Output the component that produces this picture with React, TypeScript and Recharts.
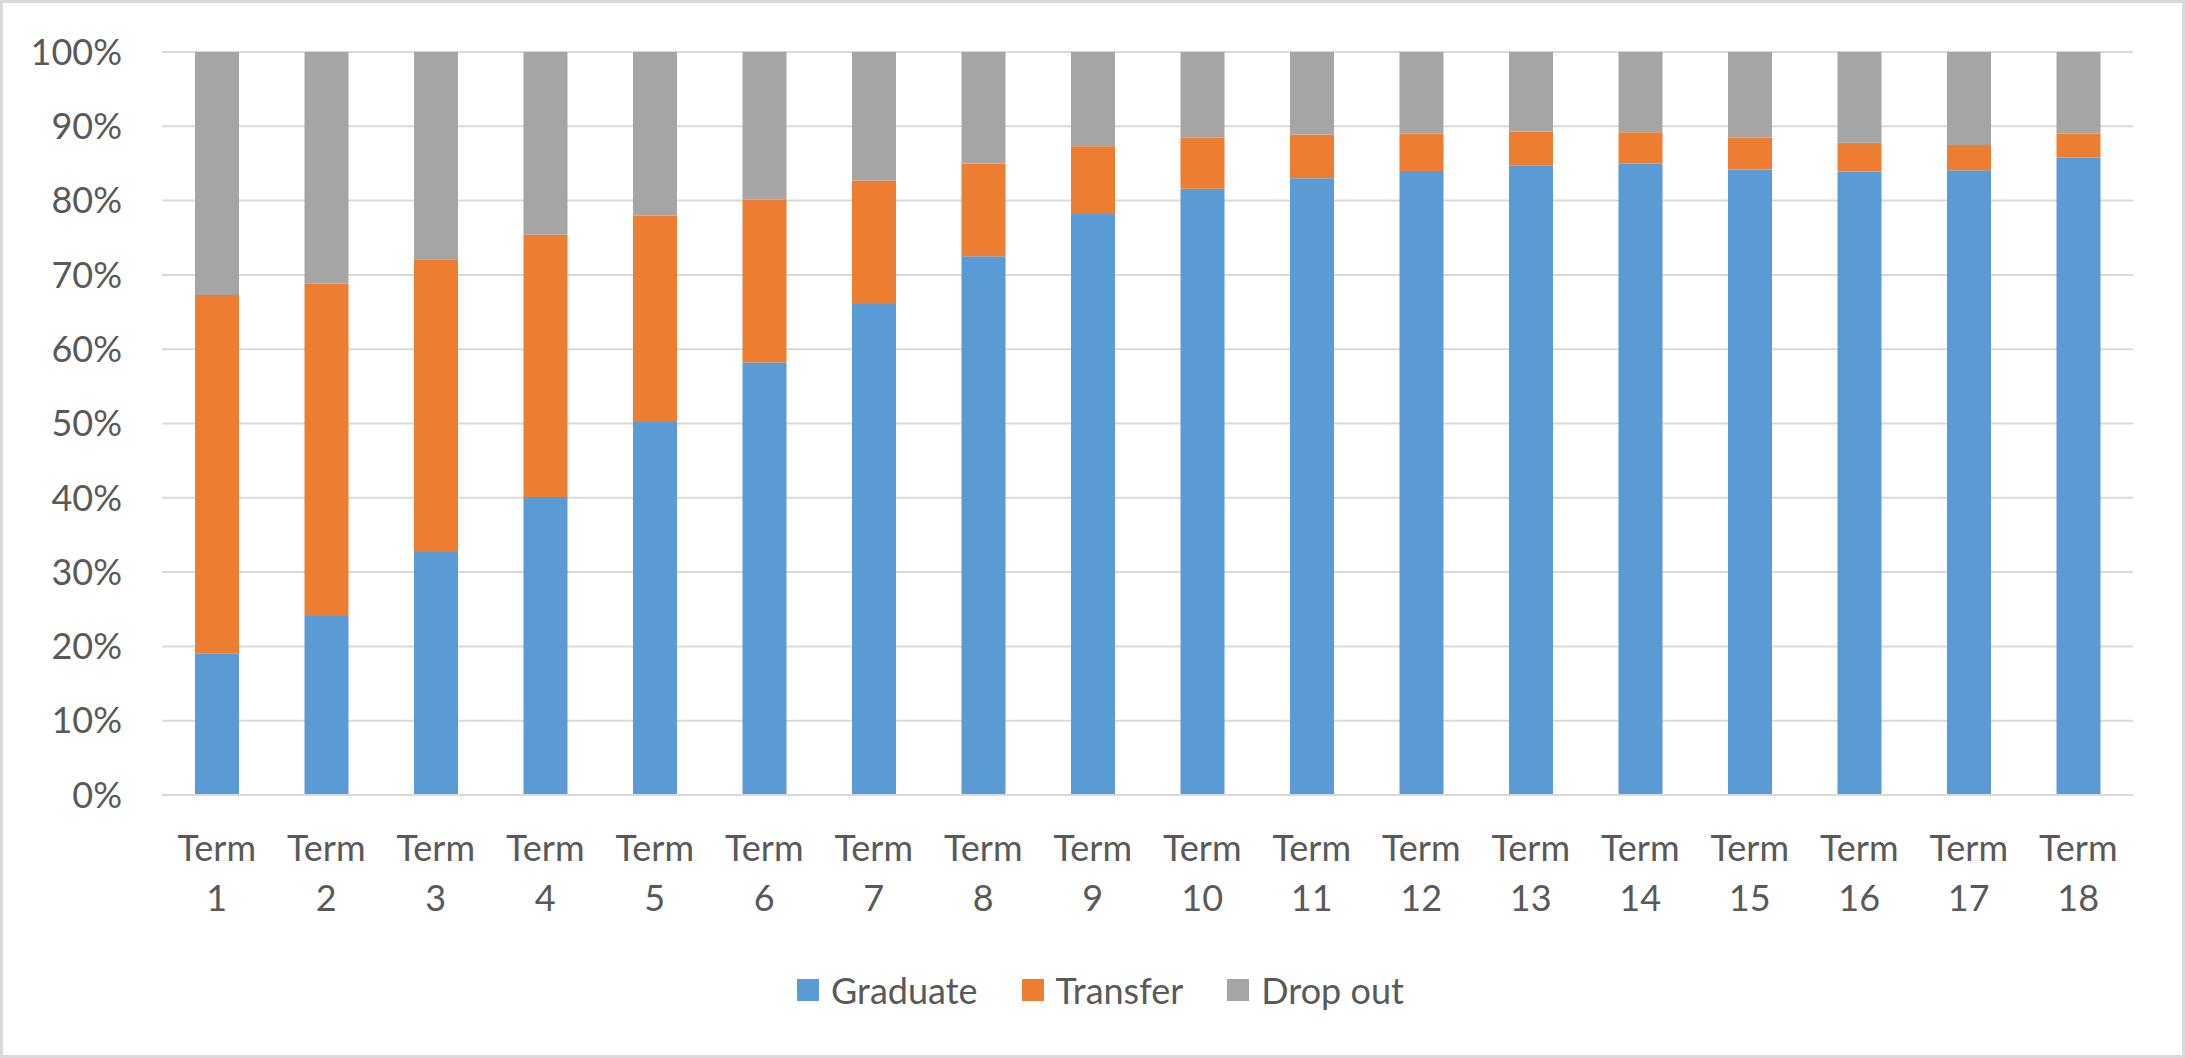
import React from 'react';
import { BarChart, Bar, XAxis, YAxis, CartesianGrid, Legend } from 'recharts';

const terms = [
  'Term 1', 'Term 2', 'Term 3', 'Term 4', 'Term 5', 'Term 6', 'Term 7', 'Term 8', 'Term 9',
  'Term 10', 'Term 11', 'Term 12', 'Term 13', 'Term 14', 'Term 15', 'Term 16', 'Term 17', 'Term 18',
];
const graduate = [19.0, 24.1, 32.7, 40.1, 50.2, 58.2, 66.1, 72.5, 78.2, 81.6, 83.0, 84.0, 84.7, 85.0, 84.2, 83.9, 84.1, 85.8];
const transfer = [48.3, 44.7, 39.4, 35.3, 27.8, 21.9, 16.6, 12.5, 9.1, 6.9, 5.9, 5.0, 4.6, 4.2, 4.3, 3.9, 3.4, 3.2];
const dropOut = [32.7, 31.2, 27.9, 24.6, 22.0, 19.9, 17.3, 15.0, 12.7, 11.5, 11.1, 11.0, 10.7, 10.8, 11.5, 12.2, 12.5, 11.0];
const yTicks = [0, 10, 20, 30, 40, 50, 60, 70, 80, 90, 100];
const seriesNames = ['Graduate', 'Transfer', 'Drop out'];
const seriesColors = ['#5b9bd5', '#ed7d31', '#a5a5a5'];

const data = terms.map((t, i) => ({
  term: t,
  graduate: graduate[i],
  transfer: transfer[i],
  dropOut: dropOut[i],
}));

const FONT = 'Lato, Carlito, "Open Sans", sans-serif';
const TEXT = '#595959';
const GRID = '#d9d9d9';
const W = 2185;
const H = 1058;

const TermTick = (props: any) => {
  const { x, y, payload } = props;
  const parts = String(payload.value).split(' ');
  return (
    <g>
      <text x={x} y={y + 66} textAnchor="middle" fill={TEXT} fontSize={36} fontFamily={FONT}>
        {parts[0]}
      </text>
      <text x={x} y={y + 116} textAnchor="middle" fill={TEXT} fontSize={36} fontFamily={FONT}>
        {parts[1]}
      </text>
    </g>
  );
};

const LegendContent = (props: any) => {
  const items = [...(props.payload || [])].sort(
    (a: any, b: any) => seriesNames.indexOf(String(a.value)) - seriesNames.indexOf(String(b.value)),
  );
  return (
    <div
      style={{
        display: 'flex',
        justifyContent: 'center',
        alignItems: 'center',
        height: 40,
        paddingLeft: 16,
        fontFamily: FONT,
        fontSize: 36,
        color: TEXT,
      }}
    >
      {items.map((it: any, i: number) => (
        <div key={String(it.value)} style={{ display: 'flex', alignItems: 'center', marginLeft: i ? 44 : 0 }}>
          <span style={{ display: 'inline-block', width: 22, height: 22, background: it.color, marginRight: 12 }} />
          <span style={{ lineHeight: '40px' }}>{it.value}</span>
        </div>
      ))}
    </div>
  );
};

export default function App() {
  return (
    <div style={{ position: 'absolute', left: 0, top: 0, width: W, height: H, background: '#fff' }}>
      <BarChart width={W} height={H} data={data} margin={{ top: 52, right: 52, bottom: 0, left: 0 }}>
        <CartesianGrid vertical={false} stroke={GRID} strokeWidth={2} />
        <XAxis
          dataKey="term"
          axisLine={{ stroke: GRID, strokeWidth: 2 }}
          tickLine={false}
          tickSize={0}
          tickMargin={0}
          height={263}
          interval={0}
          tick={<TermTick />}
        />
        <YAxis
          type="number"
          domain={[0, 100]}
          ticks={yTicks}
          interval={0}
          tickFormatter={(v: number) => `${v}%`}
          axisLine={false}
          tickLine={false}
          tickSize={0}
          tickMargin={40}
          width={162}
          tick={{ fill: TEXT, fontSize: 36, fontFamily: FONT }}
        />
        <Legend
          verticalAlign="middle"
          align="center"
          layout="horizontal"
          width={W}
          wrapperStyle={{ top: 970, left: 0, width: W }}
          content={<LegendContent />}
        />
        <Bar dataKey="graduate" name={seriesNames[0]} stackId="a" fill={seriesColors[0]} barSize={44} isAnimationActive={false} />
        <Bar dataKey="transfer" name={seriesNames[1]} stackId="a" fill={seriesColors[1]} barSize={44} isAnimationActive={false} />
        <Bar dataKey="dropOut" name={seriesNames[2]} stackId="a" fill={seriesColors[2]} barSize={44} isAnimationActive={false} />
      </BarChart>
      <div
        style={{
          position: 'absolute',
          left: 0,
          top: 0,
          width: W,
          height: H,
          boxSizing: 'border-box',
          border: `3px solid ${GRID}`,
          pointerEvents: 'none',
        }}
      />
    </div>
  );
}
